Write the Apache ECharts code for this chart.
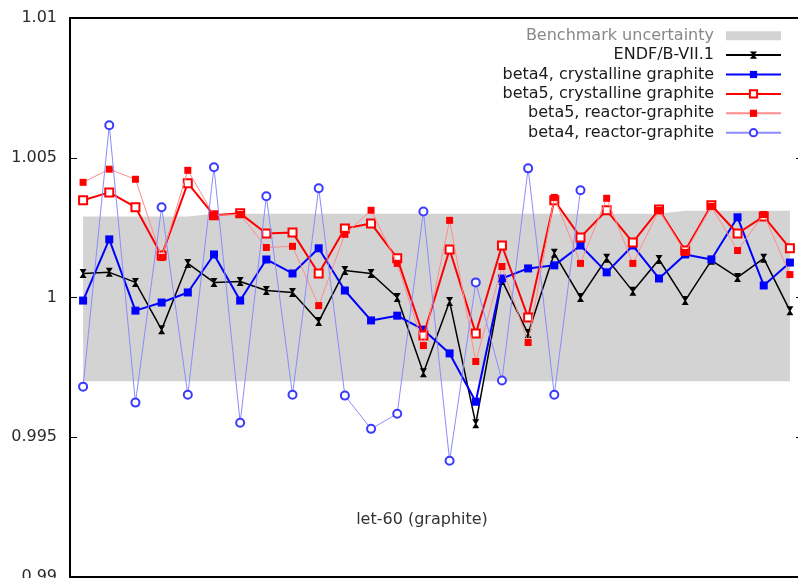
<!DOCTYPE html>
<html><head><meta charset="utf-8">
<script src="https://cdn.jsdelivr.net/npm/echarts@6/dist/echarts.min.js"></script>
<style>html,body{margin:0;padding:0;background:#fff}#chart{width:798px;height:578px}</style>
</head><body><div id="chart"></div>
<script>
const caseIds = ['1','2','3','4','5','6','7','8','9','10','11','12','13','14','15','16','17','18','19','20','21','22','23','24','25','26','27','28'];
const yTicks = [0.99, 0.995, 1, 1.005, 1.01];
const bandLower = [0.997,0.997,0.997,0.997,0.997,0.997,0.997,0.997,0.997,0.997,0.997,0.997,0.997,0.997,0.997,0.997,0.997,0.997,0.997,0.997,0.997,0.997,0.997,0.997,0.997,0.997,0.997,0.997];
const bandUpper = [1.0029,1.0029,1.0029,1.0029,1.0029,1.003,1.003,1.003,1.003,1.003,1.003,1.003,1.003,1.003,1.003,1.003,1.003,1.003,1.003,1.003,1.003,1.003,1.003,1.0031,1.0031,1.0031,1.0031,1.0031];
const endf = [1.00086,1.0009,1.00054,0.99885,1.00122,1.00054,1.00057,1.00025,1.00018,0.99914,1.00097,1.00086,1.0,0.99731,0.99986,0.99548,1.00061,0.99871,1.00158,1.0,1.0014,1.00022,1.00136,0.99989,1.00133,1.00072,1.0014,0.99953];
const beta4Cryst = [0.99989,1.00208,0.99953,0.99982,1.00018,1.00154,0.99989,1.00136,1.00086,1.00176,1.00025,0.99918,0.99935,0.99885,0.998,0.99627,1.00068,1.00104,1.00115,1.00186,1.0009,1.00186,1.00068,1.00154,1.00136,1.00287,1.00043,1.00125];
const beta5Cryst = [1.00348,1.00376,1.00323,1.0015,1.00409,1.00294,1.00301,1.00229,1.00233,1.00086,1.00247,1.00265,1.0014,0.99864,1.00172,0.99871,1.00186,0.99928,1.00348,1.00215,1.00312,1.00197,1.00315,1.00168,1.0033,1.00229,1.0029,1.00176];
const beta5React = [1.00412,1.00459,1.00423,1.00143,1.00455,1.00294,1.00297,1.00179,1.00183,0.99971,1.00226,1.00312,1.00122,0.99828,1.00276,0.99771,1.00111,0.99839,1.00358,1.00122,1.00355,1.00122,1.00312,1.00161,1.00326,1.00168,1.00297,1.00082];
const beta4React = [0.99681,1.00616,0.99624,1.00323,0.99652,1.00466,0.99552,1.00362,0.99652,1.00391,0.99649,0.9953,0.99584,1.00308,0.99416,1.00054,0.99703,1.00462,0.99652,1.00384,null,null,null,null,null,null,null,null];
const names = ['Benchmark uncertainty','ENDF/B-VII.1','beta4, crystalline graphite','beta5, crystalline graphite','beta5, reactor-graphite','beta4, reactor-graphite'];
const caseLabel = 'let-60 (graphite)';

const bandWidth = bandUpper.map((u, i) => +(u - bandLower[i]).toFixed(6));
const FONT = 'DejaVu Sans';
const hourglass = 'path://M0,0H8L4.7,4.5L8,9H0L3.3,4.5Z';

const chart = echarts.init(document.getElementById('chart'), null, {renderer: 'canvas'});
chart.setOption({
  animation: false,
  backgroundColor: '#fff',
  grid: {left: 70, right: -5, top: 18, bottom: 1, show: true, borderColor: '#000', borderWidth: 2,
         backgroundColor: 'transparent', containLabel: false, outerBoundsMode: 'none'},
  legend: {
    orient: 'vertical', right: 16, top: 26, padding: 0, align: 'right',
    itemWidth: 55, itemHeight: 9, itemGap: 0, selectedMode: false,
    textStyle: {fontFamily: FONT, fontSize: 16, color: '#1a1a1a', lineHeight: 19.4, padding: [0, 7, 0, 0]},
    data: [
      {name: names[0], icon: 'rect', itemStyle: {color: '#d3d3d3'}, textStyle: {color: '#888'}},
      {name: names[1]}, {name: names[2]}, {name: names[3]}, {name: names[4]}, {name: names[5]}
    ]
  },
  xAxis: {
    type: 'category', data: caseIds, boundaryGap: true,
    axisLine: {show: false}, axisTick: {show: false}, axisLabel: {show: false}, splitLine: {show: false}
  },
  yAxis: [
    {type: 'value', min: yTicks[0], max: yTicks[yTicks.length - 1], interval: 0.005, position: 'left',
     axisLine: {show: false}, splitLine: {show: false},
     axisTick: {show: true, inside: true, length: 7, lineStyle: {color: '#000', width: 1}},
     axisLabel: {margin: 13, fontFamily: FONT, fontSize: 16, color: '#2a2a2a', showMinLabel: true, showMaxLabel: true,
       formatter: v => { const t = yTicks.find(x => Math.abs(x - v) < 1e-9); return t === undefined ? '' : String(t); }}},
    {type: 'value', min: yTicks[0], max: yTicks[yTicks.length - 1], interval: 0.005, position: 'right',
     axisLine: {show: false}, splitLine: {show: false}, axisLabel: {show: false},
     axisTick: {show: true, inside: true, length: 7, lineStyle: {color: '#000', width: 1}}}
  ],
  graphic: [{type: 'text', x: 422, y: 520, style: {text: caseLabel, font: '16px "DejaVu Sans"', fill: '#333', textAlign: 'center', textVerticalAlign: 'middle'}}],
  series: [
    {name: 'bandBase', type: 'line', stack: 'band', data: bandLower, symbol: 'none', lineStyle: {opacity: 0}, silent: true, z: 1},
    {name: names[0], type: 'line', stack: 'band', data: bandWidth, symbol: 'none', color: '#d3d3d3',
     lineStyle: {opacity: 0}, areaStyle: {color: '#d3d3d3', opacity: 1}, silent: true, z: 1},
    {name: names[1], type: 'line', data: endf, color: '#000', symbol: hourglass, symbolSize: [7, 9],
     lineStyle: {color: '#000', width: 1.5}, itemStyle: {color: '#000'}, z: 3},
    {name: names[2], type: 'line', data: beta4Cryst, color: '#0000ff', symbol: 'rect', symbolSize: 8,
     lineStyle: {color: '#0000ff', width: 2}, itemStyle: {color: '#0000ff'}, z: 4},
    {name: names[3], type: 'line', data: beta5Cryst, color: '#ff0000', symbol: 'emptyRect', symbolSize: 8,
     lineStyle: {color: '#ff0000', width: 2}, itemStyle: {color: '#ff0000', borderWidth: 1.5}, z: 5},
    {name: names[4], type: 'line', data: beta5React, color: '#ff0000', symbol: 'rect', symbolSize: 7,
     lineStyle: {color: '#ff8c8c', width: 1}, itemStyle: {color: '#ff0000'}, z: 6},
    {name: names[5], type: 'line', data: beta4React, color: '#3a3aff', symbol: 'emptyCircle', symbolSize: 8, connectNulls: false,
     lineStyle: {color: '#8c8cff', width: 1}, itemStyle: {color: '#3a3aff', borderWidth: 1.5}, z: 7}
  ]
});
</script></body></html>
